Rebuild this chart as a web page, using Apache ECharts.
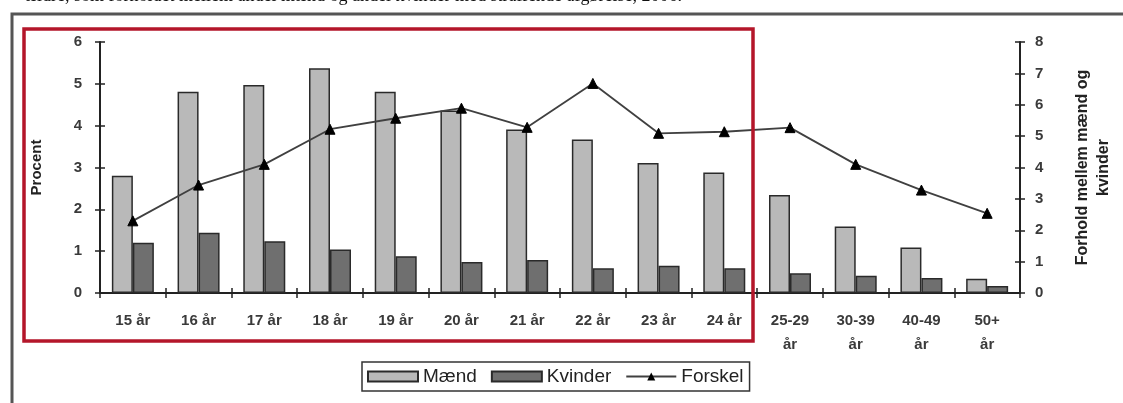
<!DOCTYPE html>
<html>
<head>
<meta charset="utf-8">
<script src="https://cdn.jsdelivr.net/npm/echarts@6/dist/echarts.min.js"></script>
<style>
html,body{margin:0;padding:0;background:#fff;}
#c{width:1123px;height:403px;}
</style>
</head>
<body>
<div id="c"></div>
<script>
const categories = ['15 år','16 år','17 år','18 år','19 år','20 år','21 år','22 år','23 år','24 år','25-29\når','30-39\når','40-49\når','50+\når'];
const maend   = [2.80,4.81,4.97,5.37,4.81,4.36,3.91,3.67,3.11,2.88,2.34,1.59,1.09,0.34];
const kvinder = [1.20,1.44,1.24,1.04,0.88,0.74,0.79,0.59,0.65,0.59,0.47,0.41,0.36,0.17];
const forskel = [2.30,3.44,4.10,5.22,5.57,5.89,5.28,6.68,5.09,5.14,5.27,4.10,3.28,2.54];
const leftTicks = [0,1,2,3,4,5,6];
const rightTicks = [0,1,2,3,4,5,6,7,8];
const caption = 'ældre, som forholdet mellem andel mænd og andel kvinder med straffende afgørelse, 2006.';

const chart = echarts.init(document.getElementById('c'), null, {renderer:'canvas'});
const lblFont = {color:'#3a3a3a', fontFamily:'Liberation Sans, Arial, sans-serif', fontWeight:'bold', fontSize:15};
const axisLine = {show:true, lineStyle:{color:'#222', width:2}};
const tickStyle = {color:'#222', width:1.5};

chart.setOption({
  animation:false,
  backgroundColor:'#fff',
  title:{
    text: caption, left: 20, top: -18,
    textStyle:{fontFamily:'Liberation Serif, Times New Roman, serif', fontSize:18, fontWeight:'normal', color:'#111'}
  },
  graphic:[
    {type:'polyline', shape:{points:[[12,403],[12,14],[1123,14]]}, style:{stroke:'#555', lineWidth:3, fill:null}, z:-1},
    {type:'rect', shape:{x:24, y:29, width:729, height:312}, style:{stroke:'#b4162a', lineWidth:3.5, fill:null}, z:10}
  ],
  legend:{
    left: 362, top: 362,
    orient:'horizontal',
    padding:[5,6,5,5],
    itemGap: 14,
    borderColor:'#333', borderWidth:1.5, borderRadius:0,
    itemWidth: 50, itemHeight: 10,
    textStyle:{fontFamily:'Liberation Sans, Arial, sans-serif', fontSize:19, color:'#222'},
    data:[
      {name:'Mænd', icon:'rect'},
      {name:'Kvinder', icon:'rect'},
      {name:'Forskel'}
    ]
  },
  grid:{left:100, right:103, top:42, bottom:110, containLabel:false, outerBoundsMode:'none'},
  xAxis:[
    {type:'category', data:categories, boundaryGap:true,
     axisLine:axisLine,
     axisTick:{show:true, length:5, alignWithLabel:false, lineStyle:tickStyle},
     axisLabel:Object.assign({margin:16, lineHeight:24, interval:0}, lblFont)
    },
    {type:'category', data:categories, position:'bottom', boundaryGap:true,
     axisLine:{show:false}, axisTick:{show:true, inside:true, length:5, lineStyle:tickStyle},
     axisLabel:{show:false}}
  ],
  yAxis:[
    {type:'value', min:0, max:6, interval:1, position:'left',
     name:'Procent', nameLocation:'middle', nameGap:56, nameRotate:90,
     nameTextStyle:{fontFamily:'Liberation Sans, Arial, sans-serif', fontWeight:'bold', fontSize:15, color:'#222'},
     axisLine:axisLine, axisTick:{show:true, length:5, lineStyle:tickStyle},
     axisLabel:Object.assign({margin:18, formatter:v=>leftTicks.includes(v)?String(v):''}, lblFont),
     splitLine:{show:false}},
    {type:'value', min:0, max:8, interval:1, position:'right',
     name:'Forhold mellem mænd og\nkvinder', nameLocation:'middle', nameGap:52, nameRotate:90,
     nameTextStyle:{fontFamily:'Liberation Sans, Arial, sans-serif', fontWeight:'bold', fontSize:16, color:'#222', lineHeight:21},
     axisLine:axisLine, axisTick:{show:true, length:5, lineStyle:tickStyle},
     axisLabel:Object.assign({margin:15, formatter:v=>rightTicks.includes(v)?String(v):''}, lblFont),
     splitLine:{show:false}},
    {type:'value', min:0, max:6, interval:1, position:'left',
     axisLine:{show:false}, axisTick:{show:true, inside:true, length:5, lineStyle:tickStyle},
     axisLabel:{show:false}, splitLine:{show:false}},
    {type:'value', min:0, max:8, interval:1, position:'right',
     axisLine:{show:false}, axisTick:{show:true, inside:true, length:5, lineStyle:tickStyle},
     axisLabel:{show:false}, splitLine:{show:false}}
  ],
  series:[
    {name:'Mænd', type:'bar', data:maend, xAxisIndex:0, yAxisIndex:0,
     barWidth:21, barGap:'0%',
     itemStyle:{color:'#b9b9b9', borderColor:'#2a2a2a', borderWidth:1.5}},
    {name:'Kvinder', type:'bar', data:kvinder, xAxisIndex:0, yAxisIndex:0,
     barWidth:21, barGap:'0%',
     itemStyle:{color:'#6f6f6f', borderColor:'#2a2a2a', borderWidth:1.5}},
    {name:'Forskel', type:'line', data:forskel, xAxisIndex:0, yAxisIndex:1,
     symbol:'triangle', symbolSize:10, z:5,
     lineStyle:{color:'#404040', width:1.8},
     itemStyle:{color:'#000', borderColor:'#000'}}
  ]
});
</script>
</body>
</html>
